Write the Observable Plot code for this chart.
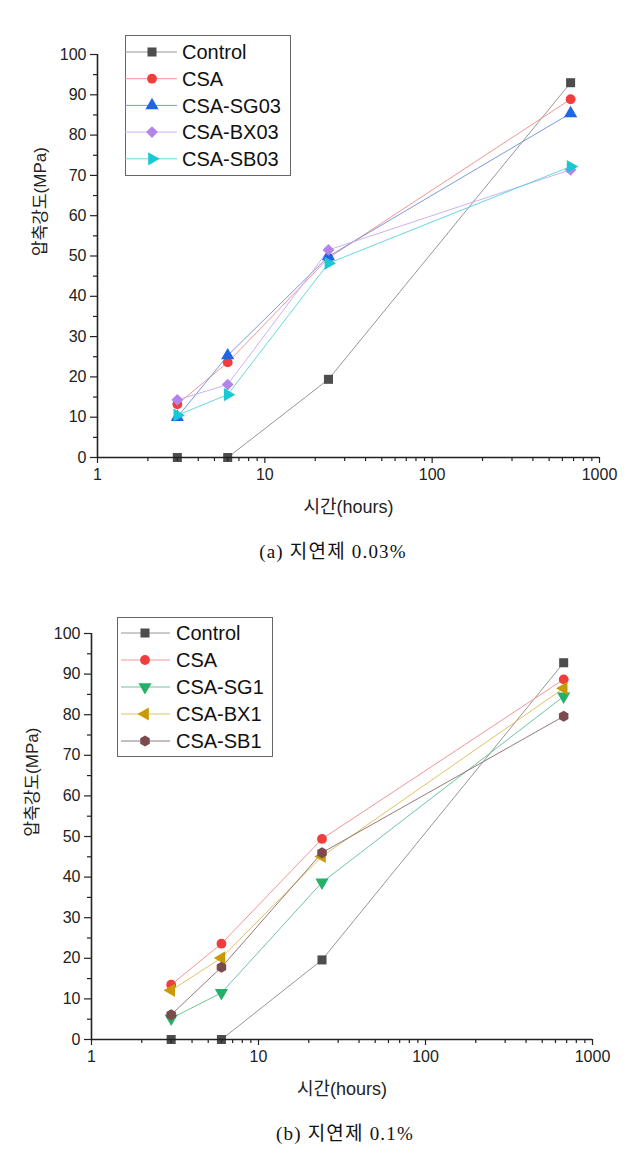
<!DOCTYPE html>
<html>
<head>
<meta charset="utf-8">
<script src="https://cdn.jsdelivr.net/npm/d3@7"></script>
<script src="https://cdn.jsdelivr.net/npm/@observablehq/plot@0.6"></script>
<style>
  html, body { margin: 0; padding: 0; background: #fff; }
  body { width: 642px; font-family: "Liberation Sans", Arial, "Noto Sans CJK KR", sans-serif; color: #222; }
  .panel { position: relative; width: 642px; }
  .panel svg.plot { display: block; }
  .legend { position: absolute; border: 1px solid #666; background: #fff; box-sizing: border-box; }
  .caption { position: relative; width: 642px; font-family: "Liberation Serif", "DejaVu Serif", "Noto Sans CJK KR", serif; font-size: 19px; color: #111; }
  .caption span { position: absolute; transform: translateX(-50%); white-space: nowrap; letter-spacing: 1.2px; }
</style>
</head>
<body>
<div id="root"></div>
<script>
// ---- data ----
const hours = [3, 6, 24, 672];
const yTicks = [0, 10, 20, 30, 40, 50, 60, 70, 80, 90, 100];
const yMinorTicks = [5, 15, 25, 35, 45, 55, 65, 75, 85, 95];
const xTicks = [1, 10, 100, 1000];
const xMinorTicks = [2, 3, 4, 5, 6, 7, 8, 9, 20, 30, 40, 50, 60, 70, 80, 90, 200, 300, 400, 500, 600, 700, 800, 900];

// panel (a) retarder 0.03%
const namesA = ["Control", "CSA", "CSA-SG03", "CSA-BX03", "CSA-SB03"];
const controlA = [0, 0, 19.4, 93.0];
const csaA = [13.2, 23.6, 49.5, 88.9];
const sg03 = [10.0, 25.3, 49.9, 85.4];
const bx03 = [14.3, 18.1, 51.5, 71.4];
const sb03 = [10.5, 15.6, 48.2, 72.2];

// panel (b) retarder 0.1%
const namesB = ["Control", "CSA", "CSA-SG1", "CSA-BX1", "CSA-SB1"];
const controlB = [0, 0, 19.6, 92.8];
const csaB = [13.5, 23.6, 49.4, 88.7];
const sg1 = [5.2, 11.5, 38.7, 84.5];
const bx1 = [12.1, 20.1, 45.1, 86.5];
const sb1 = [6.1, 17.8, 46.0, 79.6];

const captionA = "(a) 지연제 0.03%";
const captionB = "(b) 지연제 0.1%";
const xTitle = "시간(hours)";
const yTitle = "압축강도(MPa)";

// ---- custom symbols ----
const sqrt3 = Math.sqrt(3);
function triSym(map) {
  return {
    draw(ctx, size) {
      const y = -Math.sqrt(size / (sqrt3 * 3));
      const pts = [[0, y * 2], [-sqrt3 * y, -y], [sqrt3 * y, -y]].map(map);
      ctx.moveTo(pts[0][0], pts[0][1]);
      ctx.lineTo(pts[1][0], pts[1][1]);
      ctx.lineTo(pts[2][0], pts[2][1]);
      ctx.closePath();
    }
  };
}
const triUp = triSym(([x, y]) => [x, y]);
const triRight = triSym(([x, y]) => [-y, x]);
const triLeft = triSym(([x, y]) => [y, -x]);
const triDown = triSym(([x, y]) => [x, -y]);
const hexSym = {
  draw(ctx, size) {
    const r = Math.sqrt(size / (1.5 * sqrt3));
    for (let i = 0; i < 6; i++) {
      const a = Math.PI / 6 + i * Math.PI / 3;
      const px = r * Math.cos(a), py = r * Math.sin(a);
      if (i === 0) ctx.moveTo(px, py); else ctx.lineTo(px, py);
    }
    ctx.closePath();
  }
};

const stylesA = [
  {fill: "#4d4d4d", line: "#8a8a8a", symbol: d3.symbolSquare, r: 5.1},
  {fill: "#f23d3d", line: "#f08a8a", symbol: d3.symbolCircle, r: 4.9},
  {fill: "#1e66e6", line: "#6a8ed8", symbol: triUp, r: 4.9},
  {fill: "#b384ea", line: "#c7a8ee", symbol: d3.symbolDiamond2, r: 5.3},
  {fill: "#17c9d3", line: "#55d4dc", symbol: triRight, r: 4.9}
];
const stylesB = [
  {fill: "#4d4d4d", line: "#8a8a8a", symbol: d3.symbolSquare, r: 5.1},
  {fill: "#f23d3d", line: "#f08a8a", symbol: d3.symbolCircle, r: 4.9},
  {fill: "#25b06a", line: "#5cbf91", symbol: triDown, r: 4.9},
  {fill: "#c99a05", line: "#dcbb55", symbol: triLeft, r: 4.9},
  {fill: "#7a4a4c", line: "#8a6a6c", symbol: hexSym, r: 5.0}
];

const sansFont = "'Liberation Sans', Arial, 'Noto Sans CJK KR', sans-serif";

function makePanel(cfg) {
  const series = cfg.values.map((vals, i) => hours.map((h, j) => ({h, v: vals[j], s: cfg.names[i]})));
  const marks = [];
  series.forEach((data, i) => {
    marks.push(Plot.line(data, {x: "h", y: "v", stroke: cfg.styles[i].line, strokeWidth: 0.9}));
  });
  series.forEach((data, i) => {
    const st = cfg.styles[i];
    marks.push(Plot.dot(data, {x: "h", y: "v", fill: st.fill, stroke: "none", symbol: st.symbol, r: st.r}));
  });
  marks.push(
    Plot.axisY(yTicks, {tickSize: 7, tickPadding: 4, fontSize: 16, stroke: "#222", strokeWidth: 1.2, fill: "#222", label: null}),
    Plot.axisY(yMinorTicks, {tickSize: 4, tickFormat: () => "", stroke: "#222", strokeWidth: 1.2, label: null}),
    Plot.axisX(xTicks, {tickSize: 6, tickPadding: 5, fontSize: 16, tickFormat: d => String(d), stroke: "#222", strokeWidth: 1.2, fill: "#222", label: null}),
    Plot.axisX(xMinorTicks, {tickSize: 4, tickFormat: () => "", stroke: "#222", strokeWidth: 1.2, label: null}),
    Plot.ruleY([0], {stroke: "#222", strokeWidth: 1.6}),
    Plot.ruleX([1], {stroke: "#222", strokeWidth: 1.6}),
    Plot.text([yTitle], {frameAnchor: "left", dx: cfg.yTitleDx, rotate: -90, fontSize: 17, fill: "#222", fontFamily: sansFont}),
    Plot.text([xTitle], {frameAnchor: "bottom", dy: 55, fontSize: 18, fill: "#222", fontFamily: sansFont})
  );
  const chart = Plot.plot({
    width: 642,
    height: cfg.height,
    marginTop: cfg.marginTop,
    marginBottom: cfg.marginBottom,
    marginLeft: cfg.marginLeft,
    marginRight: cfg.marginRight,
    style: {fontFamily: sansFont, color: "#222", background: "white", overflow: "visible"},
    x: {type: "log", domain: [1, 1000], label: null},
    y: {domain: [0, 100], label: null},
    marks
  });
  chart.classList.add("plot");
  const wrap = document.createElement("div");
  wrap.className = "panel";
  wrap.appendChild(chart);

  // legend overlay
  const L = cfg.legend;
  const leg = document.createElement("div");
  leg.className = "legend";
  leg.style.left = L.left + "px";
  leg.style.top = L.top + "px";
  leg.style.width = L.width + "px";
  leg.style.height = L.height + "px";
  const svg = d3.create("svg").attr("width", L.width).attr("height", L.height).style("position", "absolute").style("left", "-1px").style("top", "-1px").style("overflow", "visible");
  cfg.names.forEach((name, i) => {
    const st = cfg.styles[i];
    const y = L.first + i * L.step;
    svg.append("line").attr("x1", L.lineX1).attr("x2", L.lineX2).attr("y1", y).attr("y2", y).attr("stroke", st.line).attr("stroke-width", 0.9);
    svg.append("path").attr("transform", `translate(${L.markX},${y})`).attr("d", d3.symbol(st.symbol, Math.PI * st.r * st.r)()).attr("fill", st.fill);
    svg.append("text").attr("x", L.textX).attr("y", y).attr("dy", "0.36em").attr("font-size", 20).attr("fill", "#111")
      .attr("font-family", sansFont).text(name);
  });
  leg.appendChild(svg.node());
  wrap.appendChild(leg);
  return wrap;
}

const root = document.getElementById("root");
root.appendChild(makePanel({
  values: [controlA, csaA, sg03, bx03, sb03], names: namesA, styles: stylesA,
  height: 530, marginTop: 54, marginBottom: 73, marginLeft: 97, marginRight: 43, yTitleDx: -57,
  legend: {left: 125, top: 35, width: 166, height: 141, first: 17, step: 26.7, lineX1: 0, lineX2: 52, markX: 27, textX: 57}
}));
const capA = document.createElement("div");
capA.className = "caption";
capA.style.height = "45px";
capA.innerHTML = `<span style="left:333px; top:6px;">${captionA}</span>`;
root.appendChild(capA);

root.appendChild(makePanel({
  values: [controlB, csaB, sg1, bx1, sb1], names: namesB, styles: stylesB,
  height: 530, marginTop: 58, marginBottom: 66, marginLeft: 91, marginRight: 50, yTitleDx: -59,
  legend: {left: 117, top: 42, width: 156, height: 140, first: 16, step: 27, lineX1: 4, lineX2: 53, markX: 28, textX: 59}
}));
const capB = document.createElement("div");
capB.className = "caption";
capB.style.height = "49px";
capB.innerHTML = `<span style="left:345px; top:13px;">${captionB}</span>`;
root.appendChild(capB);
</script>
</body>
</html>
